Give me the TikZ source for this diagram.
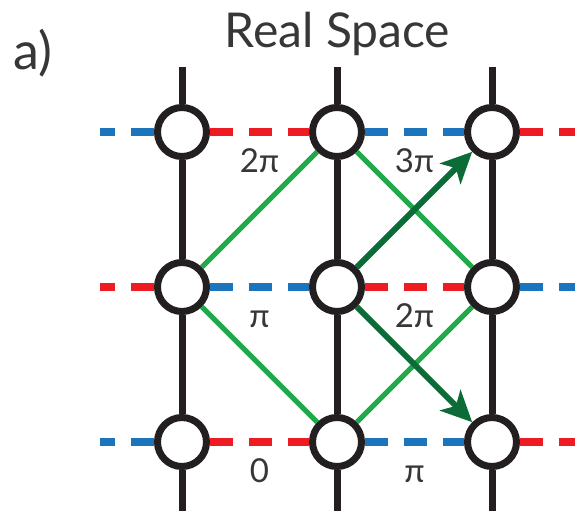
\documentclass[tikz,border=0pt]{standalone}
\usepackage{fontspec}
\setmainfont{Lato}
\usetikzlibrary{arrows.meta}
\definecolor{sitegray}{RGB}{35,31,32}
\definecolor{bondred}{RGB}{237,28,36}
\definecolor{bondblue}{RGB}{28,117,188}
\definecolor{hopgreen}{RGB}{32,168,74}
\definecolor{movegreen}{RGB}{12,108,56}
\definecolor{labelgray}{RGB}{55,55,55}
\tikzset{
  site/.style={
    circle,
    draw=sitegray,
    line width=7pt,
    fill=white,
    minimum size=49pt,
    inner sep=0pt
  },
  leg/.style={draw=sitegray, line width=7pt},
  redbond/.style={draw=bondred, line width=8pt, dash pattern=on 23pt off 15.75pt},
  bluebond/.style={draw=bondblue, line width=8pt, dash pattern=on 23pt off 15.75pt},
  hop/.style={draw=hopgreen, line width=5pt},
  move/.style={draw=movegreen, line width=6pt, -{Stealth[length=31pt, width=29pt, inset=8pt]}},
  phase/.style={below=13pt, inner sep=0pt, text height=23pt, text=labelgray, font=\fontsize{33}{38}\selectfont}
}

\begin{document}
\begin{tikzpicture}[x=1pt, y=1pt]
  \useasboundingbox (0,0) rectangle (575,-511);
  \node[anchor=base, text=labelgray, font=\fontsize{48}{56}\selectfont] (title) at (337.5,-48) {Real Space};
  \node[anchor=base west, inner sep=0pt, text=labelgray, font=\fontsize{52}{60}\selectfont] (panel) at (13,-70) {a)};

  % lattice sites
  \node[site] (s11) at (182,-132) {};
  \node[site] (s21) at (337,-132) {};
  \node[site] (s31) at (492,-132) {};
  \node[site] (s12) at (182,-287) {};
  \node[site] (s22) at (337,-287) {};
  \node[site] (s32) at (492,-287) {};
  \node[site] (s13) at (182,-442) {};
  \node[site] (s23) at (337,-442) {};
  \node[site] (s33) at (492,-442) {};

  \coordinate (t1) at (182,-67);
  \coordinate (t2) at (337,-67);
  \coordinate (t3) at (492,-67);
  \coordinate (b1) at (182,-511);
  \coordinate (b2) at (337,-511);
  \coordinate (b3) at (492,-511);
  \coordinate (l1) at (100,-132);
  \coordinate (l2) at (100,-287);
  \coordinate (l3) at (100,-442);
  \coordinate (r1) at (575,-132);
  \coordinate (r2) at (575,-287);
  \coordinate (r3) at (575,-442);

  % vertical legs
  \draw[leg] (t1) -- (s11);
  \draw[leg] (s11) -- (s12);
  \draw[leg] (s12) -- (s13);
  \draw[leg] (s13) -- (b1);
  \draw[leg] (t2) -- (s21);
  \draw[leg] (s21) -- (s22);
  \draw[leg] (s22) -- (s23);
  \draw[leg] (s23) -- (b2);
  \draw[leg] (t3) -- (s31);
  \draw[leg] (s31) -- (s32);
  \draw[leg] (s32) -- (s33);
  \draw[leg] (s33) -- (b3);

  % horizontal bonds
  \draw[bluebond] (s11) -- (l1);
  \draw[redbond]  (s11) -- node[phase] {2π} (s21);
  \draw[bluebond] (s21) -- node[phase] {3π} (s31);
  \draw[redbond]  (s31) -- (r1);
  \draw[redbond]  (s12) -- (l2);
  \draw[bluebond] (s12) -- node[phase] {π} (s22);
  \draw[redbond]  (s22) -- node[phase] {2π} (s32);
  \draw[bluebond] (s32) -- (r2);
  \draw[bluebond] (s13) -- (l3);
  \draw[redbond]  (s13) -- node[phase] {0} (s23);
  \draw[bluebond] (s23) -- node[phase] {π} (s33);
  \draw[redbond]  (s33) -- (r3);

  % hopping paths
  \draw[hop] (s12) -- (s21);
  \draw[hop] (s12) -- (s23);
  \draw[hop] (s21) -- (s32);
  \draw[hop] (s23) -- (s32);
  \draw[move] (s22) -- (s31);
  \draw[move] (s22) -- (s33);
\end{tikzpicture}
\end{document}
